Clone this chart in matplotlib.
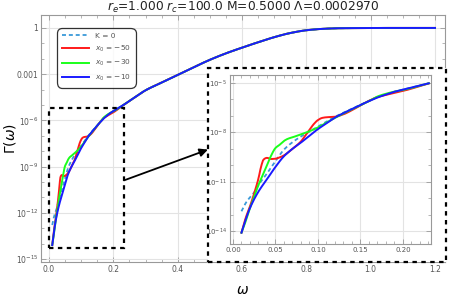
import numpy as np
import matplotlib
matplotlib.use("Agg")
import matplotlib.pyplot as plt
from matplotlib.patches import Rectangle
from matplotlib.ticker import MultipleLocator, FixedLocator, NullFormatter, FixedFormatter, FuncFormatter

# ---------------- data (log10 of Gamma) ----------------
omega_blue = [0.01, 0.015, 0.02, 0.03, 0.04, 0.05, 0.06, 0.07, 0.08, 0.09, 0.10,
              0.11, 0.12, 0.13, 0.14, 0.15, 0.16, 0.17, 0.18, 0.19, 0.20, 0.21,
              0.22, 0.23, 0.26, 0.30, 0.35, 0.40, 0.45, 0.50, 0.55, 0.60, 0.65,
              0.70, 0.75, 0.80, 0.85, 0.90, 0.95, 1.00, 1.10, 1.20]
logG_blue = [-14.1, -13.3, -12.6, -11.6, -10.85, -10.1, -9.45, -9.0, -8.62, -8.2, -7.8,
             -7.45, -7.1, -6.83, -6.58, -6.33, -6.1, -5.88, -5.7, -5.53, -5.4, -5.27,
             -5.15, -5.02, -4.6, -4.05, -3.55, -3.05, -2.55, -2.07, -1.65, -1.28, -0.93,
             -0.6, -0.33, -0.15, -0.06, -0.02, -0.01, 0.0, 0.0, 0.0]

omega_k0 = [0.01, 0.015, 0.02, 0.025, 0.03, 0.04, 0.05, 0.06, 0.07, 0.08, 0.09, 0.10,
            0.11, 0.12, 0.13, 0.14, 0.15, 0.16, 0.17, 0.18, 0.19, 0.20, 0.21, 0.22, 0.23]
logG_k0 = [-12.8, -12.3, -11.95, -11.65, -11.2, -10.5, -9.75, -9.05, -8.6, -8.25, -7.95, -7.65,
           -7.35, -7.05, -6.8, -6.56, -6.32, -6.08, -5.86, -5.69, -5.53, -5.4, -5.27, -5.15, -5.02]

omega_red = [0.01, 0.015, 0.02, 0.025, 0.03, 0.033, 0.036, 0.04, 0.045, 0.05, 0.055, 0.06,
             0.07, 0.08, 0.085, 0.09, 0.095, 0.10, 0.105, 0.11, 0.12, 0.13, 0.14, 0.15,
             0.16, 0.17, 0.18, 0.19, 0.20, 0.21, 0.22, 0.23]
logG_red = [-14.1, -13.2, -12.5, -11.7, -10.8, -10.1, -9.65, -9.55, -9.62, -9.6, -9.52, -9.4,
            -9.0, -8.55, -8.2, -7.85, -7.5, -7.25, -7.12, -7.08, -7.05, -6.9, -6.65, -6.36,
            -6.08, -5.85, -5.72, -5.6, -5.48, -5.34, -5.18, -5.03]

omega_green = [0.01, 0.015, 0.02, 0.025, 0.03, 0.035, 0.04, 0.045, 0.05, 0.055, 0.06,
               0.065, 0.07, 0.08, 0.09, 0.10, 0.11, 0.12, 0.13, 0.14, 0.15, 0.16, 0.17,
               0.18, 0.19, 0.20, 0.21, 0.22, 0.23]
logG_green = [-14.1, -13.4, -12.6, -11.9, -11.2, -10.6, -10.0, -9.4, -8.95, -8.75, -8.52,
              -8.38, -8.3, -8.12, -7.93, -7.7, -7.4, -7.12, -6.85, -6.6, -6.35, -6.1, -5.82,
              -5.65, -5.52, -5.42, -5.3, -5.16, -5.02]

labels = ["K = 0", r"$x_0$ = −50", r"$x_0$ = −30", r"$x_0$ = −10"]
colors = ["#3a9ad9", "#ff1a1a", "#1aff1a", "#1a1aff"]

main_yticks = [1, 1e-3, 1e-6, 1e-9, 1e-12, 1e-15]
main_ylabels = ["1", "0.001", r"$10^{-6}$", r"$10^{-9}$", r"$10^{-12}$", r"$10^{-15}$"]
inset_yticks = [1e-5, 1e-8, 1e-11, 1e-14]
inset_ylabels = [r"$10^{-5}$", r"$10^{-8}$", r"$10^{-11}$", r"$10^{-14}$"]

# extend the x0 = -50, -30 and K = 0 curves with the common tail
tail_w = [w for w in omega_blue if w > 0.23]
tail_g = [g for w, g in zip(omega_blue, logG_blue) if w > 0.23]

series = [
    (omega_k0 + tail_w, logG_k0 + tail_g),
    (omega_red + tail_w, logG_red + tail_g),
    (omega_green + tail_w, logG_green + tail_g),
    (omega_blue, logG_blue),
]

W, H = 449, 298
plt.rcParams['mathtext.fontset'] = 'dejavusans'
fig = plt.figure(figsize=(W / 100, H / 100), dpi=100)

tick_col = "#555555"
frame_col = "#999999"
grid_col = "#e3e3e3"


def smooth(x, y):
    """monotone cubic (PCHIP) interpolation of the read points"""
    x = np.asarray(x, float); y = np.asarray(y, float)
    xs = np.linspace(x.min(), x.max(), 800)
    h = np.diff(x); d = np.diff(y) / h
    m = np.zeros_like(y)
    for i in range(1, len(y) - 1):
        if d[i - 1] * d[i] <= 0:
            m[i] = 0
        else:
            w1 = 2 * h[i] + h[i - 1]; w2 = h[i] + 2 * h[i - 1]
            m[i] = (w1 + w2) / (w1 / d[i - 1] + w2 / d[i])
    m[0] = d[0]; m[-1] = d[-1]
    idx = np.clip(np.searchsorted(x, xs) - 1, 0, len(x) - 2)
    t = (xs - x[idx]) / h[idx]
    h00 = 2 * t**3 - 3 * t**2 + 1; h10 = t**3 - 2 * t**2 + t
    h01 = -2 * t**3 + 3 * t**2; h11 = t**3 - t**2
    ys = h00 * y[idx] + h10 * h[idx] * m[idx] + h01 * y[idx + 1] + h11 * h[idx] * m[idx + 1]
    return xs, 10 ** ys


def style_axes(ax, fs):
    for s in ax.spines.values():
        s.set_color(frame_col)
        s.set_linewidth(0.8)
    ax.tick_params(which='both', direction='in', top=True, right=True,
                   colors=frame_col, labelcolor=tick_col, labelsize=fs, pad=2)
    ax.tick_params(which='major', length=3.5, width=0.6)
    ax.tick_params(which='minor', length=2, width=0.5)


# ---------------- main axes ----------------
ax = fig.add_axes([41 / W, 1 - 262 / H, (445 - 41) / W, (262 - 15) / H])
ax.set_yscale('log')
for (x, y), c, lab in zip(series, colors, labels):
    xs, ys = smooth(x, y)
    if lab == "K = 0":
        ax.plot(xs, ys, color=c, lw=1.3, ls=(0, (2.2, 1.6)), label=lab)
    else:
        ax.plot(xs, ys, color=c, lw=1.4, label=lab)
ax.set_xlim(-0.025, 1.231)
ax.set_ylim(10 ** -15.2, 10 ** 0.84)
ax.yaxis.set_major_locator(FixedLocator(main_yticks))
ax.yaxis.set_major_formatter(FixedFormatter(main_ylabels))
ax.yaxis.set_minor_locator(FixedLocator([10.0 ** k for k in range(-15, 1)]))
ax.yaxis.set_minor_formatter(NullFormatter())
ax.xaxis.set_major_locator(MultipleLocator(0.2))
ax.xaxis.set_minor_locator(MultipleLocator(0.05))
ax.xaxis.set_major_formatter(FuncFormatter(lambda v, p: f"{v:.1f}"))
ax.grid(True, which='major', color=grid_col, lw=0.8)
ax.set_axisbelow(True)
style_axes(ax, 5.5)
ax.set_xlabel(r"$\omega$", fontsize=10)
ax.xaxis.set_label_coords(0.5, -0.085)
ax.set_ylabel(r"$\Gamma(\omega)$", fontsize=10)
ax.yaxis.set_label_coords(-0.058, 0.5)
ax.set_title(r"$r_e$=1.000 $r_c$=100.0 M=0.5000 Λ=0.0002970", fontsize=8.8, pad=3, color="#222222")

leg = ax.legend(loc='upper left', bbox_to_anchor=(58 / W, 1 - 29 / H), bbox_transform=fig.transFigure,
                fontsize=5.3, handlelength=3.7, labelspacing=0.62, borderpad=0.5,
                handletextpad=0.8, borderaxespad=0, frameon=True, fancybox=True)
leg.get_frame().set_edgecolor('black')
leg.get_frame().set_linewidth(0.9)
leg.get_frame().set_boxstyle('round,pad=0.2,rounding_size=0.8')
for t in leg.get_texts():
    t.set_color(tick_col)

# dashed region box in main axes
ax.add_patch(Rectangle((0.0, 10 ** -14.3), 0.233, 10 ** -5.18 - 10 ** -14.3,
                       fill=False, ls=(0, (2, 2)), lw=1.6, ec='black', zorder=5))
# arrow
ax.annotate("", xy=(0.494, 10 ** -7.9), xytext=(0.233, 10 ** -9.9),
            arrowprops=dict(arrowstyle='-|>', color='black', lw=1.3, mutation_scale=12,
                            shrinkA=0, shrinkB=0),
            zorder=6)

# big dashed box around the inset (figure coordinates)
fig.patches.append(Rectangle((208 / W, 1 - 262 / H), (446 - 208) / W, (262 - 68) / H,
                             transform=fig.transFigure, fill=True, fc='white',
                             ls=(0, (2, 2)), lw=1.6, ec='black', zorder=3))

# ---------------- inset axes ----------------
axi = fig.add_axes([230 / W, 1 - 244 / H, (431 - 230) / W, (244 - 75) / H])
axi.set_zorder(10)
axi.set_yscale('log')
for (x, y), c, lab in zip(series, colors, labels):
    xs, ys = smooth(x, y)
    m = xs <= 0.231
    if lab == "K = 0":
        axi.plot(xs[m], ys[m], color=c, lw=1.3, ls=(0, (2.2, 1.6)))
    else:
        axi.plot(xs[m], ys[m], color=c, lw=1.4)
axi.set_xlim(-0.0035, 0.233)
axi.set_ylim(10 ** -14.79, 10 ** -4.51)
axi.yaxis.set_major_locator(FixedLocator(inset_yticks))
axi.yaxis.set_major_formatter(FixedFormatter(inset_ylabels))
axi.yaxis.set_minor_locator(FixedLocator([10.0 ** k for k in range(-14, -4)]))
axi.yaxis.set_minor_formatter(NullFormatter())
axi.xaxis.set_major_locator(MultipleLocator(0.05))
axi.xaxis.set_minor_locator(MultipleLocator(0.01))
axi.xaxis.set_major_formatter(FuncFormatter(lambda v, p: f"{v:.2f}"))
axi.grid(True, which='major', color=grid_col, lw=0.8)
axi.set_axisbelow(True)
style_axes(axi, 5.0)

fig.savefig("out.png", dpi=100)
